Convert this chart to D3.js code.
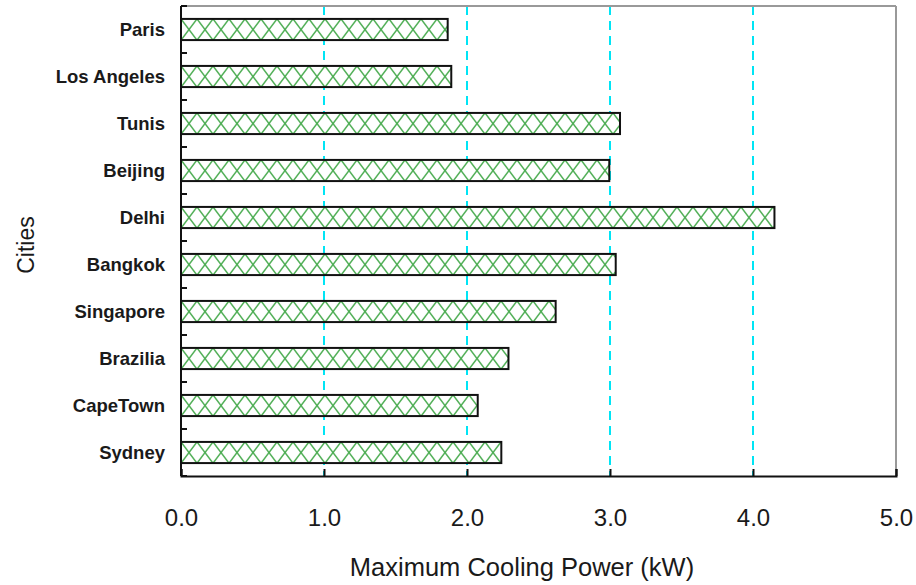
<!DOCTYPE html>
<html>
<head>
<meta charset="utf-8">
<script src="https://cdn.jsdelivr.net/npm/d3@7"></script>
<style>
  body { margin: 0; background: #fff; }
  text { font-family: Arial, "Liberation Sans", sans-serif; fill: #1a1a1a; }
</style>
</head>
<body>
<div id="chart"></div>
<script>
// data
var cities = ["Paris", "Los Angeles", "Tunis", "Beijing", "Delhi", "Bangkok", "Singapore", "Brazilia", "CapeTown", "Sydney"];
var coolingPower = [1.865, 1.89, 3.07, 2.995, 4.15, 3.04, 2.62, 2.29, 2.075, 2.24];
var xTicks = [0, 1, 2, 3, 4, 5];

var width = 916, height = 585;
var margin = {top: 6, right: 20, bottom: 109, left: 181};
var w = width - margin.left - margin.right,   // 715
    h = height - margin.top - margin.bottom;  // 470

var svg = d3.select("#chart").append("svg")
    .attr("width", width)
    .attr("height", height);

var x = d3.scaleLinear().domain([0, 5]).range([0, w]);
var y = d3.scaleBand().domain(cities).range([0, h]).paddingInner(0.55).paddingOuter(0.275);

var bh = y.bandwidth();

// hatch pattern, aligned so every bar gets the same diamonds
// (userSpaceOnUse = coords of the translated g)
var defs = svg.append("defs");
var pat = defs.append("pattern")
    .attr("id", "hatch")
    .attr("patternUnits", "userSpaceOnUse")
    .attr("x", 0)
    .attr("y", y(cities[0]))
    .attr("width", 16)
    .attr("height", y.step());
pat.append("rect").attr("width", 16).attr("height", y.step()).attr("fill", "#fff");
pat.append("path")
    .attr("d", "M-8,-" + bh / 2 + "L24," + (bh * 1.5) + "M24,-" + bh / 2 + "L-8," + (bh * 1.5))
    .attr("stroke", "#4fae55")
    .attr("stroke-width", 1.5)
    .attr("fill", "none");

var g = svg.append("g")
    .attr("transform", "translate(" + margin.left + "," + margin.top + ")");

// grid
g.selectAll(".grid")
    .data([1, 2, 3, 4])
  .enter().append("line")
    .attr("class", "grid")
    .attr("x1", function(d) { return x(d); })
    .attr("x2", function(d) { return x(d); })
    .attr("y1", 0)
    .attr("y2", h)
    .attr("stroke", "#00e5f5")
    .attr("stroke-width", 2)
    .attr("stroke-dasharray", "9,6");

// bars
g.selectAll(".bar")
    .data(cities)
  .enter().append("rect")
    .attr("class", "bar")
    .attr("x", 0)
    .attr("y", function(d) { return y(d); })
    .attr("width", function(d, i) { return x(coolingPower[i]); })
    .attr("height", bh)
    .attr("fill", "url(#hatch)")
    .attr("stroke", "#111")
    .attr("stroke-width", 2);

// frame: top/right grey, left/bottom black
g.append("line").attr("x1", 0).attr("x2", w).attr("y1", 0).attr("y2", 0)
    .attr("stroke", "#999").attr("stroke-width", 2);
g.append("line").attr("x1", w).attr("x2", w).attr("y1", 0).attr("y2", h)
    .attr("stroke", "#999").attr("stroke-width", 2);

// y axis: minor ticks between bands, labels on the outside
var yBounds = d3.range(cities.length + 1).map(function(i) { return i * y.step(); });
g.append("g").selectAll("line")
    .data(yBounds)
  .enter().append("line")
    .attr("x1", 0).attr("x2", 6)
    .attr("y1", function(d) { return d; })
    .attr("y2", function(d) { return d; })
    .attr("stroke", "#111").attr("stroke-width", 2);

g.append("g").selectAll("text")
    .data(cities)
  .enter().append("text")
    .attr("x", -16)
    .attr("y", function(d) { return y(d) + bh / 2; })
    .attr("dy", "0.35em")
    .style("text-anchor", "end")
    .style("font-size", "18.5px")
    .style("font-weight", "bold")
    .attr("fill", "#222")
    .text(function(d) { return d; });

g.append("line").attr("x1", 0).attr("x2", 0).attr("y1", 0).attr("y2", h)
    .attr("stroke", "#111").attr("stroke-width", 2);

// x axis
var xAxis = d3.axisBottom(x).tickValues(xTicks).tickSize(-7).tickPadding(33)
    .tickFormat(d3.format(".1f"));
var xg = g.append("g")
    .attr("transform", "translate(0," + h + ")")
    .call(xAxis);
xg.select(".domain").attr("stroke", "#111").attr("stroke-width", 2);
xg.selectAll(".tick line").attr("stroke", "#111").attr("stroke-width", 2);
xg.selectAll(".tick text")
    .style("font-size", "24px")
    .style("font-family", "Arial, 'Liberation Sans', sans-serif")
    .attr("fill", "#1a1a1a");

// axis titles
svg.append("text")
    .attr("x", 522)
    .attr("y", 576)
    .style("text-anchor", "middle")
    .style("font-size", "25.5px")
    .text("Maximum Cooling Power (kW)");

svg.append("text")
    .attr("transform", "translate(34,245) rotate(-90)")
    .style("text-anchor", "middle")
    .style("font-size", "23px")
    .text("Cities");
</script>
</body>
</html>
